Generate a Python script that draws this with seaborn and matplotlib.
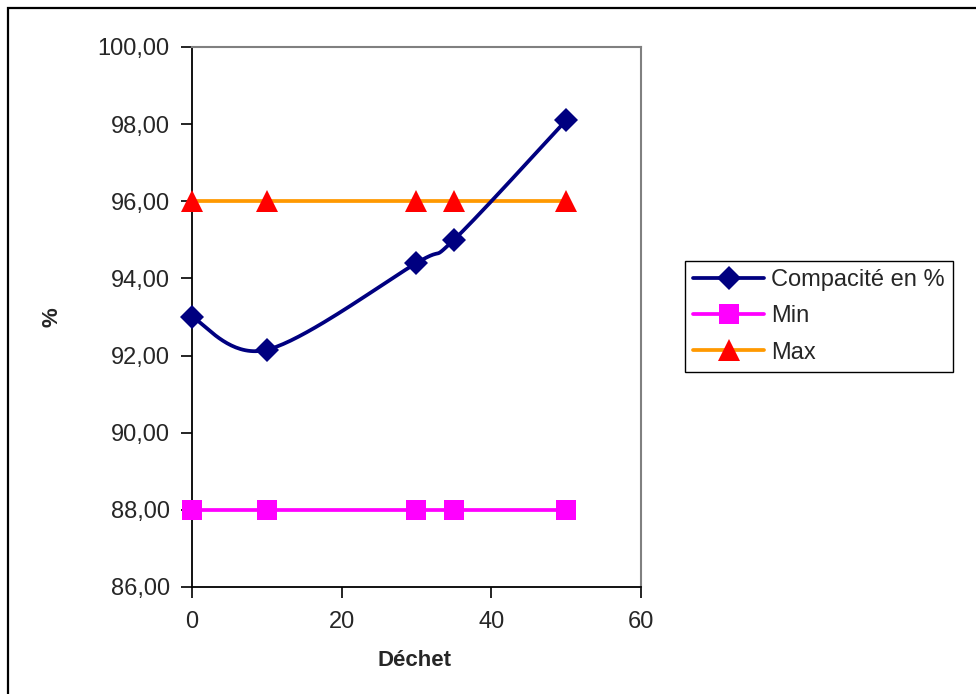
import numpy as np
import matplotlib
matplotlib.use("Agg")
import matplotlib.pyplot as plt
from matplotlib.lines import Line2D
from matplotlib.patches import Rectangle
import seaborn as sns

# ---- data ----
dechet = [0, 10, 30, 35, 50]
compacite = [93.00, 92.15, 94.40, 95.00, 98.10]
min_vals = [88.00, 88.00, 88.00, 88.00, 88.00]
max_vals = [96.00, 96.00, 96.00, 96.00, 96.00]
labels = ["Compacité en %", "Min", "Max"]
y_ticks = [86, 88, 90, 92, 94, 96, 98, 100]
x_ticks = [0, 20, 40, 60]

sns.set_style("white")
plt.rcParams['font.family'] = ['Liberation Sans', 'DejaVu Sans']

NAVY = "#000080"
MAGENTA = "#FF00FF"
ORANGE = "#FF9900"
RED = "#FF0000"

fig = plt.figure(figsize=(9.76, 6.94), dpi=100)
ax = fig.add_axes([192/976, 1-587/694, (641-192)/976, (587-47)/694])

ax.set_xlim(0, 60)
ax.set_ylim(86, 100)


def smooth_curve(xs, ys, n=40):
    # Excel-like smoothed line (Catmull-Rom Bezier) in pixel-proportional space
    sx = 449 / 60.0
    sy = 540 / 14.0
    P = np.column_stack([np.asarray(xs, float) * sx, np.asarray(ys, float) * sy])
    out = []
    for i in range(len(P) - 1):
        p0 = P[i - 1] if i > 0 else P[i]
        p1 = P[i]
        p2 = P[i + 1]
        p3 = P[i + 2] if i + 2 < len(P) else P[i + 1]
        c1 = p1 + (p2 - p0) / 6.0
        c2 = p2 - (p3 - p1) / 6.0
        t = np.linspace(0, 1, n)[:, None]
        seg = (1 - t) ** 3 * p1 + 3 * (1 - t) ** 2 * t * c1 + 3 * (1 - t) * t ** 2 * c2 + t ** 3 * p2
        out.append(seg if i == 0 else seg[1:])
    pts = np.vstack(out)
    return pts[:, 0] / sx, pts[:, 1] / sy


lw = 2.7
ms_d, ms_s, ms_t = 12.5, 15, 16
# Min and Max lines
sns.lineplot(x=dechet, y=min_vals, ax=ax, color=MAGENTA, lw=lw, marker='s',
             markersize=ms_s, markeredgewidth=0, markerfacecolor=MAGENTA,
             clip_on=False, zorder=3)
sns.lineplot(x=dechet, y=max_vals, ax=ax, color=ORANGE, lw=lw, marker='^',
             markersize=ms_t, markeredgewidth=0, markerfacecolor=RED,
             clip_on=False, zorder=3)

# Compacité smoothed line + markers
cx, cy = smooth_curve(dechet, compacite)
ax.plot(cx, cy, color=NAVY, lw=lw, zorder=4, solid_capstyle='round')
sns.lineplot(x=dechet, y=compacite, ax=ax, color=NAVY, lw=0, marker='D',
             markersize=ms_d, markeredgewidth=0, markerfacecolor=NAVY,
             clip_on=False, zorder=5)

# axes styling
ax.set_xticks(x_ticks)
ax.set_yticks(y_ticks)
ax.set_yticklabels([f"{v:.2f}".replace('.', ',') for v in y_ticks])
ax.set_xticklabels([str(v) for v in x_ticks])
ax.tick_params(axis='y', direction='out', length=8, width=1.2, color='black',
               labelsize=17, pad=8, left=True)
ax.tick_params(axis='x', direction='out', length=8, width=1.2, color='black',
               labelsize=17, pad=9, bottom=True)
for s in ['left', 'bottom']:
    ax.spines[s].set_color('black')
    ax.spines[s].set_linewidth(1.3)
for s in ['top', 'right']:
    ax.spines[s].set_color('#808080')
    ax.spines[s].set_linewidth(1.5)
ax.grid(False)

ax.set_xlabel("Déchet", fontsize=16, fontweight='bold')
ax.set_ylabel("%", fontsize=16, fontweight='bold')
ax.xaxis.set_label_coords((415-192)/449, -(661-587)/540)
ax.xaxis.label.set_va('center')
ax.yaxis.set_label_coords((52-192)/449, 0.5)
ax.yaxis.label.set_va('center')

# legend
handles = [
    Line2D([], [], color=NAVY, lw=lw, marker='D', markersize=ms_d,
           markeredgewidth=0, markerfacecolor=NAVY),
    Line2D([], [], color=MAGENTA, lw=lw, marker='s', markersize=ms_s,
           markeredgewidth=0, markerfacecolor=MAGENTA),
    Line2D([], [], color=ORANGE, lw=lw, marker='^', markersize=ms_t,
           markeredgewidth=0, markerfacecolor=RED),
]
leg = fig.legend(handles, labels, loc='upper left',
                 bbox_to_anchor=(685/976, 1-261/694), fontsize=17,
                 frameon=True, fancybox=False, framealpha=1,
                 edgecolor='black', handlelength=3.0, handletextpad=0.3,
                 labelspacing=0.6, borderpad=0.35, borderaxespad=0)
leg.get_frame().set_linewidth(1.0)

# outer chart border (extends beyond right/bottom edges)
fig.add_artist(Rectangle((8/976, -0.05), 1.2, 1 - 8/694 + 0.05,
                         transform=fig.transFigure, fill=False,
                         edgecolor='black', lw=1.6, clip_on=False))

fig.savefig("out.png", dpi=100)
